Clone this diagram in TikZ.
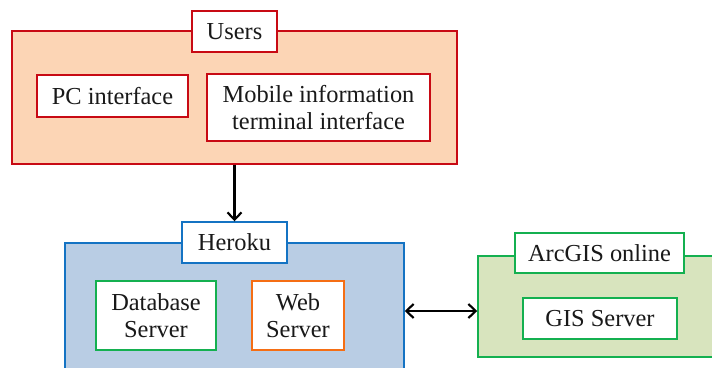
\documentclass[tikz,border=0pt]{standalone}
\usepackage{fontspec}
\setmainfont{Liberation Serif}
\usetikzlibrary{arrows.meta}
\definecolor{ured}{RGB}{200,10,20}
\definecolor{upeach}{RGB}{252,213,181}
\definecolor{hblue}{RGB}{20,115,195}
\definecolor{hfill}{RGB}{185,205,228}
\definecolor{ggreen}{RGB}{20,176,80}
\definecolor{gfill}{RGB}{216,228,190}
\definecolor{worange}{RGB}{245,110,20}
\definecolor{txt}{RGB}{25,25,25}
\tikzset{
  box/.style={draw, line width=1.1pt, inner sep=0pt, align=center, text=txt,
    font=\fontsize{18.3}{20.5}\selectfont},
  outer/.style={box},
  label box/.style={box, fill=white},
  conn/.style={line width=1.6pt, draw=black},
  barb/.tip={Straight Barb[length=5.5pt,width=10.5pt,line width=1.6pt]}
}
\begin{document}
\begin{tikzpicture}[x=0.75pt,y=-0.75pt]
\useasboundingbox (0,0) rectangle (712,367);
\begin{scope}
\clip (0,0) rectangle (712,367);
% Users
\node[outer, draw=ured, fill=upeach, minimum width=445*0.75pt, minimum height=133*0.75pt] (users) at (234.5,97.5) {};
\node[label box, draw=ured, minimum width=85*0.75pt, minimum height=41*0.75pt] (userslbl) at (234.5,31.5) {Users};
\node[label box, draw=ured, minimum width=151*0.75pt, minimum height=42*0.75pt] (pc) at (112.5,96) {PC interface};
\node[label box, draw=ured, minimum width=223*0.75pt, minimum height=67*0.75pt] (mobile) at (318.5,107.5) {Mobile information\\terminal interface};
% Heroku
\node[outer, draw=hblue, fill=hfill, minimum width=339*0.75pt, minimum height=157*0.75pt] (heroku) at (234.5,321.5) {};
\node[label box, draw=hblue, minimum width=105*0.75pt, minimum height=41*0.75pt] (herokulbl) at (234.5,242.5) {Heroku};
\node[label box, draw=ggreen, minimum width=120*0.75pt, minimum height=69*0.75pt] (db) at (156,315.5) {Database\\Server};
\node[label box, draw=worange, minimum width=92*0.75pt, minimum height=69*0.75pt] (web) at (298,315.5) {Web\\Server};
% ArcGIS
\node[outer, draw=ggreen, fill=gfill, minimum width=282*0.75pt, minimum height=101*0.75pt] (arcgis) at (619,306.5) {};
\node[label box, draw=ggreen, minimum width=169*0.75pt, minimum height=40*0.75pt] (arcgislbl) at (599.5,253) {ArcGIS online};
\node[label box, draw=ggreen, minimum width=154*0.75pt, minimum height=41*0.75pt] (gis) at (600,318.5) {GIS Server};
% connectors
\coordinate (mid) at (441,311);
\draw[conn, -barb] (users.south) -- (herokulbl.north);
\draw[conn, barb-barb] (heroku.east |- mid) -- (arcgis.west |- mid);
\end{scope}
\end{tikzpicture}
\end{document}
